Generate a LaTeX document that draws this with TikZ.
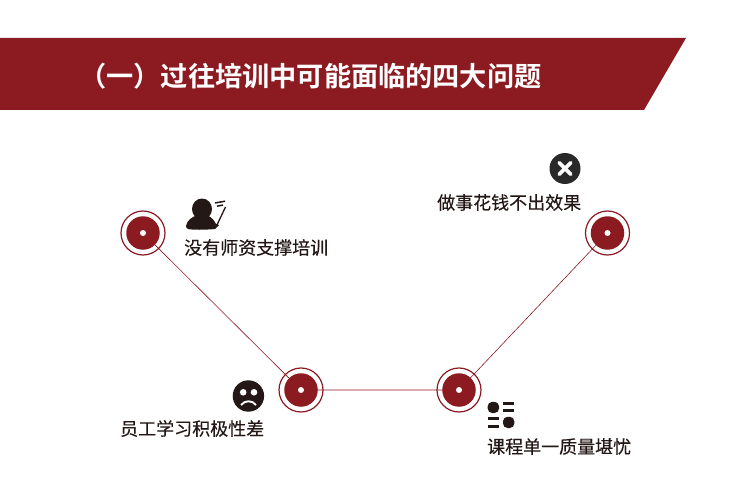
\documentclass[tikz,border=0pt]{standalone}
\usepackage{fontspec}
\newfontfamily\cjk[FakeBold=0.2]{Noto Sans CJK SC}
\newfontfamily\cjkb{Noto Sans CJK SC Bold}
\definecolor{brandred}{HTML}{8B1A21}
\definecolor{icondark}{HTML}{231815}
\definecolor{labelgrey}{HTML}{231815}
\tikzset{
  x=1pt,y=-1pt,
  outerring/.style={circle,draw=brandred,line width=1.2pt,minimum size=44pt,inner sep=0pt},
  innerdisc/.style={circle,fill=brandred,minimum size=33.5pt,inner sep=0pt},
  centerdot/.style={circle,fill=white,minimum size=6pt,inner sep=0pt},
  linkline/.style={draw=brandred,line width=0.6pt},
  caption/.style={font=\cjk\fontsize{18}{18}\selectfont,text=labelgrey,inner sep=0pt,anchor=west},
  titletext/.style={font=\cjkb\fontsize{27.2}{27.2}\selectfont,text=white,inner sep=0pt,anchor=west},
  icondisc/.style={fill=icondark}
}
\begin{document}
\begin{tikzpicture}
\useasboundingbox (0,0) rectangle (750,500);
\fill[white] (0,0) rectangle (750,500);
\fill[brandred] (0,38) -- (686,38) -- (644,110) -- (0,110) -- cycle;
\node[titletext] (title) at (79,76) {（一）过往培训中可能面临的四大问题};

\coordinate (p1) at (143,233);
\coordinate (p2) at (301,390);
\coordinate (p3) at (459,390);
\coordinate (p4) at (607.5,233);
\draw[linkline] (p1) -- (p2) -- (p3) -- (p4);
\foreach \n/\p in {a/p1,b/p2,c/p3,d/p4}{
  \node[outerring] (\n o) at (\p) {};
  \node[innerdisc] (\n i) at (\p) {};
  \node[centerdot] (\n c) at (\p) {};
}

\node[caption] (t1) at (184,247.5) {没有师资支撑培训};
\node[caption] (t2) at (120,428.5) {员工学习积极性差};
\node[caption] (t3) at (487,446.5) {课程单一质量堪忧};
\node[caption] (t4) at (437,202.5) {做事花钱不出效果};

% person icon
\fill[icondisc] (202,209) ellipse (10 and 10.5);
\fill[icondisc] (186,226) .. controls (187,220) and (192,217.5) .. (196,215.5) -- (208,215.5)
  .. controls (212,218) and (214,220) .. (216,224) -- (219,225) -- (215,229) .. controls (205,230) and (192,230) .. (188,229) .. controls (186.5,228.5) and (186,227) .. (186,226) -- cycle;
\draw[icondark,line width=1.3pt] (216.5,226) -- (225.5,207);
\draw[icondark,line width=1.5pt] (215,203) -- (225,201.2);
\draw[icondark,line width=1.5pt] (217,206.2) -- (223,205);

% cross icon
\fill[black!84] (565,168.5) circle (15.5);
\draw[white,line width=3.8pt,line cap=round] (559.3,162.8) -- (570.7,174.2) (570.7,162.8) -- (559.3,174.2);

% sad face
\fill[icondisc] (248.4,396) circle (15.7);
\fill[white] (243.2,392.3) circle (3.3);
\fill[white] (254,392.3) circle (3.3);
\draw[white,line width=1.9pt] (241,405) .. controls (245,400) and (252,400) .. (256,405);

% list icon
\fill[icondisc,rounded corners=4.5pt] (487.7,401.8) rectangle (499,413);
\fill[icondisc,rounded corners=4.5pt] (503,416.8) rectangle (514.3,428);
\draw[icondark,line width=2.2pt] (503,403.5) -- (514.3,403.5) (503,410.5) -- (514.3,410.5);
\draw[icondark,line width=2.2pt] (487.7,418.5) -- (499,418.5) (487.7,426.5) -- (499,426.5);
\end{tikzpicture}
\end{document}
